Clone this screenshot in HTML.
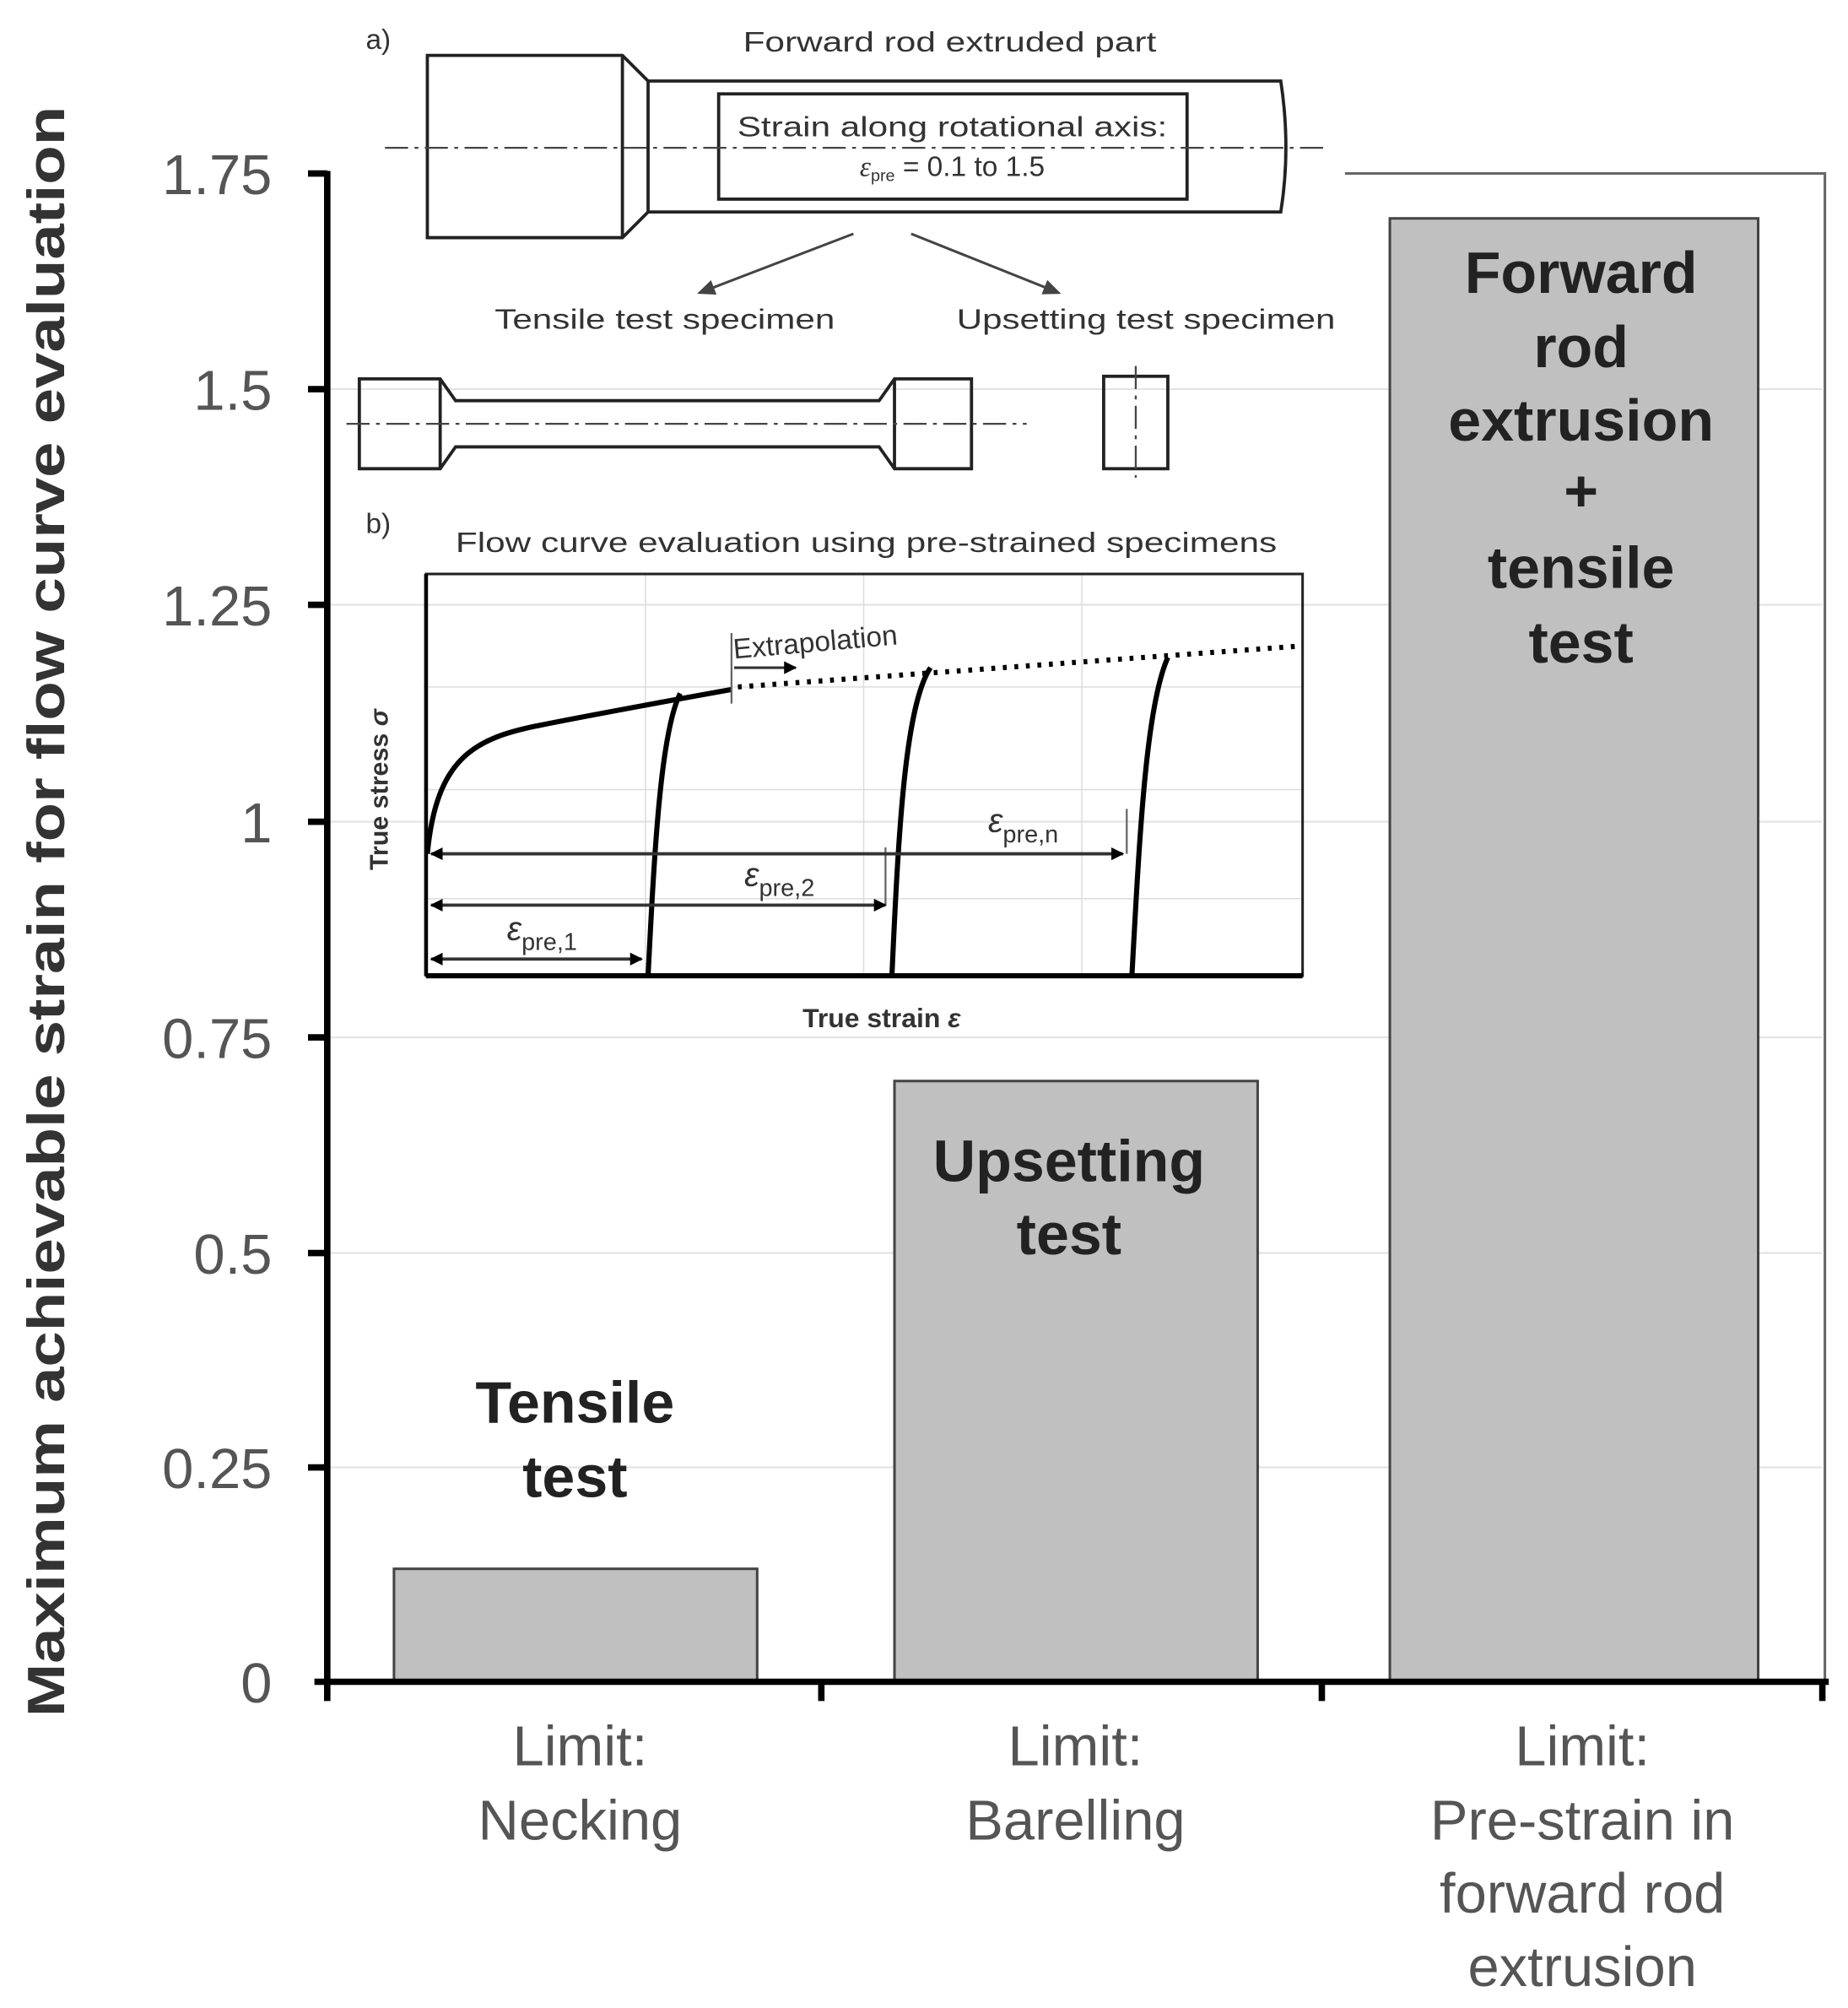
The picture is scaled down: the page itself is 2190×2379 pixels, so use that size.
<!DOCTYPE html>
<html><head><meta charset="utf-8"><style>
html,body{margin:0;padding:0;background:#fff;}
svg{display:block;}
text{font-family:"Liberation Sans",sans-serif;}
</style></head><body>
<svg width="2190" height="2379" viewBox="0 0 1440 1564" xmlns="http://www.w3.org/2000/svg">
<defs>
<marker id="ah" markerWidth="10" markerHeight="10" refX="9" refY="5" orient="auto" markerUnits="userSpaceOnUse"><path d="M0,0 L10,5 L0,10 z" fill="#000"/></marker>
<marker id="ahs" markerWidth="10" markerHeight="10" refX="1" refY="5" orient="auto" markerUnits="userSpaceOnUse"><path d="M10,0 L0,5 L10,10 z" fill="#000"/></marker>
<marker id="ag" markerWidth="14" markerHeight="12" refX="12" refY="6" orient="auto" markerUnits="userSpaceOnUse"><path d="M0,0 L14,6 L0,12 z" fill="#444"/></marker>
</defs>
<g stroke="#e4e4e4" stroke-width="1.5">
<line x1="255" y1="303" x2="1420" y2="303"/><line x1="255" y1="471" x2="1420" y2="471"/>
<line x1="255" y1="640" x2="1420" y2="640"/><line x1="255" y1="808" x2="1420" y2="808"/>
<line x1="255" y1="976" x2="1420" y2="976"/><line x1="255" y1="1143" x2="1420" y2="1143"/>
</g>
<polyline points="1048,135 1422,135 1422,1310" fill="none" stroke="#666" stroke-width="2"/>
<g fill="#c0c0c0" stroke="#444" stroke-width="2">
<rect x="307" y="1222" width="283" height="88"/>
<rect x="697" y="842" width="283" height="468"/>
<rect x="1083" y="170" width="287" height="1140"/>
</g>
<g stroke="#000" stroke-width="5">
<line x1="255" y1="133" x2="255" y2="1312"/>
<line x1="245" y1="1310" x2="1425" y2="1310"/>
<line x1="255" y1="1310" x2="255" y2="1325"/><line x1="640" y1="1310" x2="640" y2="1325"/>
<line x1="1030" y1="1310" x2="1030" y2="1325"/><line x1="1420" y1="1310" x2="1420" y2="1325"/>
<line x1="240" y1="135" x2="255" y2="135"/><line x1="240" y1="303" x2="255" y2="303"/>
<line x1="240" y1="471" x2="255" y2="471"/><line x1="240" y1="640" x2="255" y2="640"/>
<line x1="240" y1="808" x2="255" y2="808"/><line x1="240" y1="976" x2="255" y2="976"/>
<line x1="240" y1="1143" x2="255" y2="1143"/>
</g>
<g font-size="44" fill="#555" text-anchor="end">
<text x="212" y="151">1.75</text><text x="212" y="319">1.5</text><text x="212" y="487">1.25</text>
<text x="212" y="656">1</text><text x="212" y="824">0.75</text><text x="212" y="992">0.5</text>
<text x="212" y="1159">0.25</text><text x="212" y="1326">0</text>
</g>
<text transform="translate(50,710) rotate(-90)" text-anchor="middle" font-size="41" font-weight="bold" fill="#333" textLength="1255" lengthAdjust="spacingAndGlyphs">Maximum  achievable  strain for flow curve evaluation</text>
<g font-size="44" fill="#555" text-anchor="middle">
<text x="452" y="1375">Limit:</text><text x="452" y="1433">Necking</text>
<text x="838" y="1375">Limit:</text><text x="838" y="1433">Barelling</text>
<text x="1233" y="1375">Limit:</text><text x="1233" y="1433">Pre-strain in</text>
<text x="1233" y="1490">forward rod</text><text x="1233" y="1547">extrusion</text>
</g>
<g font-size="46" font-weight="bold" fill="#222" text-anchor="middle">
<text x="448" y="1108">Tensile</text><text x="448" y="1166">test</text>
<text x="833" y="920">Upsetting</text><text x="833" y="977">test</text>
<text x="1232" y="228">Forward</text><text x="1232" y="286">rod</text><text x="1232" y="343">extrusion</text>
<text x="1232" y="398">+</text><text x="1232" y="458">tensile</text><text x="1232" y="516">test</text>
</g>
<g font-size="22" fill="#333">
<text x="285" y="38">a)</text>
<text x="740" y="40" text-anchor="middle" textLength="322" lengthAdjust="spacingAndGlyphs">Forward rod extruded part</text>
<text x="518" y="256" text-anchor="middle" textLength="265" lengthAdjust="spacingAndGlyphs">Tensile  test  specimen</text>
<text x="893" y="256" text-anchor="middle" textLength="295" lengthAdjust="spacingAndGlyphs">Upsetting  test  specimen</text>
<text x="285" y="415">b)</text>
<text x="675" y="430" text-anchor="middle" textLength="640" lengthAdjust="spacingAndGlyphs">Flow  curve  evaluation  using  pre-strained  specimens</text>
</g>
<g fill="none" stroke="#222" stroke-width="2.5">
<path d="M333,43 L485,43 L505,63 L998,63 Q1006,115 998,165 L505,165 L485,185 L333,185 Z"/>
<line x1="485" y1="43" x2="485" y2="185"/><line x1="505" y1="63" x2="505" y2="165"/>
<rect x="560" y="73" width="365" height="82"/>
<path d="M280,295 L343,295 L355,312 L685,312 L697,295 L757,295 L757,365 L697,365 L685,348 L355,348 L343,365 L280,365 Z"/>
<line x1="343" y1="295" x2="343" y2="365"/><line x1="697" y1="295" x2="697" y2="365"/>
<rect x="860" y="293" width="50" height="72"/>
</g>
<g stroke="#444" stroke-width="1.5" stroke-dasharray="18,5,3,5" fill="none">
<line x1="300" y1="115" x2="1035" y2="115"/>
<line x1="270" y1="330" x2="800" y2="330"/>
<line x1="885" y1="285" x2="885" y2="372"/>
</g>
<text x="742" y="106" text-anchor="middle" font-size="22" fill="#333" textLength="335" lengthAdjust="spacingAndGlyphs">Strain along  rotational  axis:</text>
<text x="742" y="137" text-anchor="middle" font-size="22" fill="#333"><tspan font-style="italic" font-family="Liberation Serif">ε</tspan><tspan font-size="13" dy="4">pre</tspan><tspan dy="-4"> = 0.1 to 1.5</tspan></text>
<line x1="665" y1="182" x2="545" y2="228" stroke="#444" stroke-width="2" marker-end="url(#ag)"/>
<line x1="710" y1="182" x2="825" y2="228" stroke="#444" stroke-width="2" marker-end="url(#ag)"/>
<g stroke="#ddd" stroke-width="1">
<line x1="503" y1="447" x2="503" y2="760"/><line x1="673" y1="447" x2="673" y2="760"/><line x1="843" y1="447" x2="843" y2="760"/>
<line x1="330" y1="535" x2="1015" y2="535"/><line x1="330" y1="615" x2="1015" y2="615"/><line x1="330" y1="700" x2="1015" y2="700"/>
</g>
<rect x="332" y="447" width="683" height="313" fill="none" stroke="#222" stroke-width="2"/>
<line x1="332" y1="760" x2="1015" y2="760" stroke="#000" stroke-width="4"/>
<line x1="332" y1="447" x2="332" y2="760" stroke="#000" stroke-width="3"/>
<path d="M333,665 C340,590 370,575 420,565 C470,555 520,546 570,537" fill="none" stroke="#000" stroke-width="4"/>
<line x1="575" y1="535" x2="1015" y2="503" stroke="#000" stroke-width="4" stroke-dasharray="3,6"/>
<g fill="none" stroke="#000" stroke-width="4">
<path d="M505,760 C510,660 515,570 530,540"/>
<path d="M695,760 C700,650 705,550 725,520"/>
<path d="M882,760 C888,650 893,550 910,512"/>
</g>
<line x1="570" y1="493" x2="570" y2="548" stroke="#666" stroke-width="1.5"/>
<line x1="878" y1="630" x2="878" y2="665" stroke="#666" stroke-width="1.5"/>
<line x1="690" y1="660" x2="690" y2="705" stroke="#666" stroke-width="1.5"/>
<line x1="572" y1="520" x2="620" y2="520" stroke="#333" stroke-width="2" marker-end="url(#ah)"/>
<text transform="translate(572,513) rotate(-5)" font-size="22" fill="#333">Extrapolation</text>
<g stroke="#333" stroke-width="2.5">
<line x1="336" y1="665" x2="875" y2="665" marker-start="url(#ahs)" marker-end="url(#ah)"/>
<line x1="336" y1="705" x2="690" y2="705" marker-start="url(#ahs)" marker-end="url(#ah)"/>
<line x1="336" y1="747" x2="500" y2="747" marker-start="url(#ahs)" marker-end="url(#ah)"/>
</g>
<g font-family="Liberation Serif" font-size="26" fill="#333">
<text x="395" y="732"><tspan font-style="italic">ε</tspan><tspan font-size="19" dy="8">pre,1</tspan></text>
<text x="580" y="690"><tspan font-style="italic">ε</tspan><tspan font-size="19" dy="8">pre,2</tspan></text>
<text x="770" y="648"><tspan font-style="italic">ε</tspan><tspan font-size="19" dy="8">pre,n</tspan></text>
</g>
<text transform="translate(302,615) rotate(-90)" text-anchor="middle" font-size="20" font-weight="bold" fill="#333">True stress <tspan font-style="italic">σ</tspan></text>
<text x="687" y="800" text-anchor="middle" font-size="21" font-weight="bold" fill="#333">True strain <tspan font-style="italic">ε</tspan></text>
</svg>
</body></html>
